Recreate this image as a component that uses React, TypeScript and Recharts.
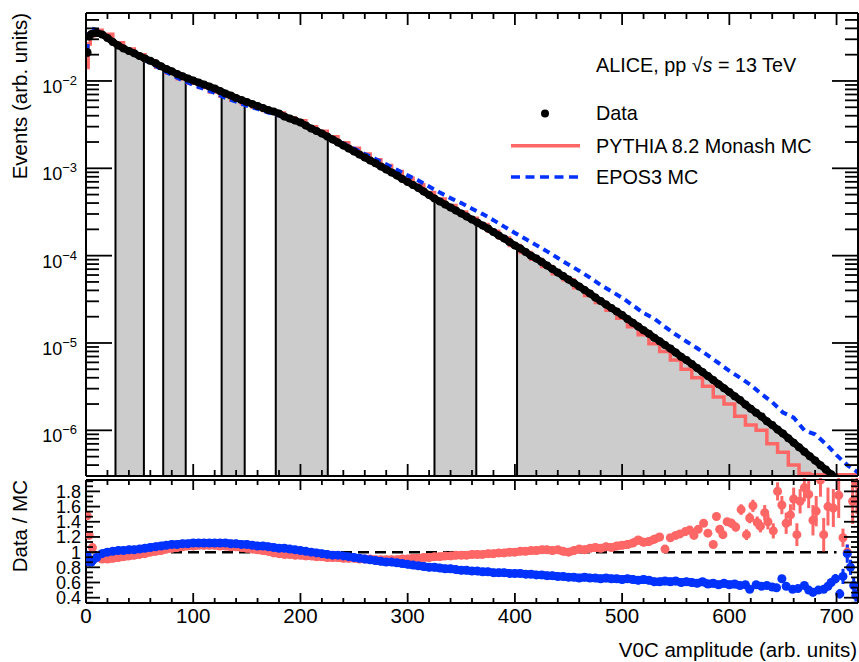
import React from "react";
import { ComposedChart, Line, Area, Scatter, ErrorBar, XAxis, YAxis } from "recharts";

const FONT = '"Liberation Sans", Arial, Helvetica, sans-serif';
const RED = "#ff6666";
const BLUE = "#0032ff";
const GRAY = "#cccccc";
const Y_MIN = 3e-7;
const Y_MAX = 0.06;

// ---- top panel: measured V0C amplitude distribution ----
const dataFirst = { x: 1, y: 0.0212 };
const dataHeadX = [3];
const dataHeadY = [0.0323];
// x = 5, 10, ..., 700
const dataX0 = 5;
const dataDx = 5;
const dataY = [
  0.0346, 0.0355, 0.0341, 0.0311, 0.028, 0.0255, 0.0236, 0.0221, 0.0207, 0.0193,
  0.0181, 0.017, 0.0159, 0.0147, 0.0137, 0.0129, 0.012, 0.0113, 0.0107, 0.0101,
  0.00961, 0.00912, 0.00865, 0.00821, 0.00768, 0.00719, 0.00682, 0.00639, 0.00606, 0.00575,
  0.00545, 0.00517, 0.00491, 0.00465, 0.00447, 0.00424, 0.00392, 0.00372, 0.00353, 0.00335,
  0.00309, 0.00286, 0.00268, 0.0025, 0.00231, 0.00214, 0.00198, 0.00182, 0.00169, 0.00156,
  0.00144, 0.00133, 0.00123, 0.00114, 0.00105, 0.000969, 0.000895, 0.000827, 0.000754, 0.000697,
  0.000644, 0.000595, 0.000542, 0.000494, 0.000451, 0.000417, 0.000385, 0.000356, 0.000329, 0.000304,
  0.00028, 0.000259, 0.000239, 0.000221, 0.000204, 0.000186, 0.00017, 0.000157, 0.000143, 0.000131,
  0.000121, 0.00011, 0.0001, 9.26e-5, 8.45e-5, 7.7e-5, 7.02e-5, 6.4e-5, 5.84e-5, 5.32e-5,
  4.86e-5, 4.43e-5, 4.04e-5, 3.68e-5, 3.31e-5, 3.02e-5, 2.75e-5, 2.51e-5, 2.29e-5, 2.09e-5,
  1.88e-5, 1.71e-5, 1.54e-5, 1.4e-5, 1.28e-5, 1.15e-5, 1.05e-5, 9.46e-6, 8.63e-6, 7.76e-6,
  6.98e-6, 6.37e-6, 5.73e-6, 5.16e-6, 4.64e-6, 4.18e-6, 3.76e-6, 3.38e-6, 3.04e-6, 2.74e-6,
  2.46e-6, 2.22e-6, 1.97e-6, 1.77e-6, 1.59e-6, 1.44e-6, 1.27e-6, 1.15e-6, 1.02e-6, 9.17e-7,
  8.14e-7, 7.23e-7, 6.42e-7, 5.7e-7, 5.06e-7, 4.5e-7, 3.99e-7, 3.55e-7, 3.15e-7, 2.8e-7,
];

// MC histograms: head bins then x = 10, 20, ..., 720
const mcHeadX = [1, 3, 5];
const mcX0 = 10;
const mcDx = 10;
const pythiaHeadY = [0.0143, 0.0265, 0.033];
const pythiaY = [
  0.0382, 0.0342, 0.0274, 0.0233, 0.0199, 0.017, 0.0144, 0.0123, 0.0106, 0.0094,
  0.0084, 0.0075, 0.0067, 0.006, 0.0055, 0.005, 0.0046, 0.0043, 0.0038, 0.0035,
  0.003, 0.00266, 0.0023, 0.00196, 0.0017, 0.00146, 0.00125, 0.00108, 0.00092, 0.00077,
  0.00065, 0.00053, 0.000444, 0.000375, 0.000317, 0.000268, 0.000228, 0.00019, 0.000159, 0.000131,
  0.000109, 9.1e-5, 7.5e-5, 6.2e-5, 5.3e-5, 4.3e-5, 3.5e-5, 2.9e-5, 2.37e-5, 1.92e-5,
  1.53e-5, 1.24e-5, 9.8e-6, 8.0e-6, 6.4e-6, 5.0e-6, 4.0e-6, 3.2e-6, 2.4e-6, 2.0e-6,
  1.45e-6, 1.15e-6, 1.0e-6, 7.0e-7, 5.6e-7, 4.0e-7, 3.2e-7, 3.1e-7, 3.1e-7, 3.1e-7,
  3.1e-7, 3.1e-7,
];
const eposHeadY = [0.022, 0.0367, 0.0398];
const eposY = [
  0.0382, 0.0311, 0.025, 0.0215, 0.0186, 0.016, 0.0136, 0.0117, 0.0102, 0.009,
  0.0081, 0.0073, 0.0064, 0.0058, 0.0052, 0.00479, 0.00435, 0.00404, 0.00358, 0.00328,
  0.00286, 0.00255, 0.00223, 0.00192, 0.00168, 0.00146, 0.00128, 0.00111, 0.00096, 0.00083,
  0.000726, 0.000618, 0.000528, 0.000456, 0.0004, 0.000345, 0.000299, 0.000255, 0.000215, 0.000182,
  0.000155, 0.000132, 0.000112, 9.4e-5, 7.9e-5, 6.7e-5, 5.6e-5, 4.6e-5, 3.9e-5, 3.3e-5,
  2.7e-5, 2.2e-5, 1.9e-5, 1.53e-5, 1.25e-5, 1.04e-5, 8.7e-6, 7.2e-6, 5.9e-6, 4.8e-6,
  4.0e-6, 3.3e-6, 2.6e-6, 2.1e-6, 1.6e-6, 1.4e-6, 1.0e-6, 9.0e-7, 7.0e-7, 5.2e-7,
  4.0e-7, 3.3e-7,
];

// multiplicity class edges (pairs = shaded classes) and curve height at each edge
const bandEdges = [27.5, 54, 72, 93, 126.5, 148, 177, 225.5, 325, 364, 402, 700];
const edgeTops = [0.0265, 0.0186, 0.0144, 0.0109, 0.0075, 0.0059, 0.0044, 0.0023, 0.00045, 0.000245, 0.000128, 2.8e-7];

// ---- ratio panel ----
const redHeadX = [1, 3, 6];
const redHeadY = [1.48, 1.22, 1.06];
// x = 10, 15, ..., 535
const redX0 = 10;
const redY = [
  0.93, 0.91, 0.91, 0.92, 0.93, 0.94, 0.95, 0.96, 0.97, 0.98,
  1.0, 1.01, 1.02, 1.04, 1.05, 1.06, 1.07, 1.08, 1.08, 1.09,
  1.09, 1.09, 1.09, 1.08, 1.08, 1.07, 1.07, 1.06, 1.05, 1.04,
  1.03, 1.02, 1.01, 0.99, 0.98, 0.97, 0.97, 0.96, 0.96, 0.95,
  0.95, 0.94, 0.94, 0.93, 0.93, 0.93, 0.92, 0.92, 0.92, 0.91,
  0.91, 0.91, 0.9, 0.9, 0.9, 0.9, 0.9, 0.91, 0.91, 0.92,
  0.92, 0.93, 0.93, 0.94, 0.94, 0.95, 0.95, 0.96, 0.96, 0.96,
  0.97, 0.97, 0.97, 0.98, 0.98, 0.99, 0.99, 1.0, 1.0, 1.01,
  1.01, 1.02, 1.02, 1.03, 1.03, 1.02, 1.03, 1.01, 1.0, 1.02,
  1.04, 1.03, 1.05, 1.06, 1.05, 1.07, 1.06, 1.08, 1.09, 1.1,
  1.12, 1.16, 1.13, 1.14, 1.17, 1.2,
];
const redTailX = [540, 545, 550, 554, 559, 563, 567, 571, 576, 580, 585, 588, 591, 594, 598, 602, 606, 611, 616, 619, 622, 626, 629, 633, 636, 641, 645, 649, 653, 657, 660, 663, 666, 670, 674, 678, 681, 685, 688, 692, 697, 702, 706, 710, 715, 719];
const redTailY = [1.04, 1.19, 1.22, 1.24, 1.27, 1.29, 1.22, 1.3, 1.38, 1.25, 1.1, 1.47, 1.3, 1.23, 1.4, 1.38, 1.33, 1.56, 1.23, 1.45, 1.61, 1.39, 1.34, 1.52, 1.4, 1.28, 1.8, 1.62, 1.38, 1.49, 1.7, 1.23, 1.67, 1.85, 1.76, 1.42, 1.54, 1.95, 1.23, 1.6, 1.58, 1.75, 1.19, 1.0, 1.67, 1.9];
const redTailErr = [0.02, 0.02, 0.02, 0.03, 0.03, 0.03, 0.03, 0.03, 0.04, 0.04, 0.04, 0.05, 0.05, 0.05, 0.05, 0.06, 0.06, 0.07, 0.07, 0.07, 0.08, 0.08, 0.08, 0.1, 0.1, 0.1, 0.12, 0.12, 0.14, 0.14, 0.15, 0.15, 0.16, 0.18, 0.18, 0.2, 0.2, 0.22, 0.22, 0.25, 0.25, 0.3, 0.12, 0.1, 0.3, 0.4];

const blueHeadX = [1, 3];
const blueHeadY = [0.96, 0.87];
// x = 5, 10, ..., 610
const blueX0 = 5;
const blueY = [
  0.87, 0.93, 0.98, 1.0, 1.01, 1.02, 1.02, 1.03, 1.03, 1.04,
  1.05, 1.06, 1.07, 1.08, 1.09, 1.1, 1.1, 1.11, 1.11, 1.12,
  1.12, 1.12, 1.12, 1.12, 1.12, 1.12, 1.11, 1.11, 1.1, 1.1,
  1.09, 1.08, 1.08, 1.07, 1.06, 1.05, 1.05, 1.04, 1.03, 1.02,
  1.01, 1.0, 0.99, 0.98, 0.97, 0.96, 0.96, 0.95, 0.94, 0.93,
  0.92, 0.91, 0.9, 0.89, 0.88, 0.87, 0.87, 0.86, 0.85, 0.84,
  0.83, 0.82, 0.81, 0.8, 0.8, 0.79, 0.78, 0.78, 0.77, 0.76,
  0.76, 0.75, 0.75, 0.74, 0.74, 0.73, 0.73, 0.73, 0.72, 0.72,
  0.72, 0.71, 0.71, 0.7, 0.7, 0.69, 0.69, 0.68, 0.68, 0.67,
  0.67, 0.66, 0.67, 0.66, 0.66, 0.65, 0.66, 0.65, 0.65, 0.64,
  0.65, 0.64, 0.63, 0.64, 0.63, 0.61, 0.61, 0.62, 0.61, 0.62,
  0.6, 0.61, 0.6, 0.59, 0.61, 0.58, 0.59, 0.57, 0.59, 0.57,
  0.58, 0.56,
];
const blueTailX = [615, 619, 625, 630, 635, 640, 644, 649, 653, 659, 664, 670, 674, 678, 683, 688, 692, 695, 699, 703, 706, 710, 713, 716, 718];
const blueTailY = [0.57, 0.51, 0.57, 0.55, 0.56, 0.54, 0.53, 0.65, 0.55, 0.51, 0.52, 0.56, 0.5, 0.47, 0.5, 0.51, 0.55, 0.6, 0.65, 0.45, 0.68, 0.98, 0.8, 0.56, 0.43];
const blueTailErr = [0.02, 0.02, 0.02, 0.02, 0.02, 0.03, 0.03, 0.03, 0.03, 0.03, 0.03, 0.04, 0.04, 0.04, 0.04, 0.04, 0.05, 0.05, 0.06, 0.06, 0.1, 0.12, 0.1, 0.1, 0.08];

const ratioLabels = [0.4, 0.6, 0.8, 1, 1.2, 1.4, 1.6, 1.8];

// ---- tables for the library ----
const dataRows = [
  ...dataHeadX.map((x, i) => ({ x, y: dataHeadY[i] })),
  ...dataY.map((y, i) => ({ x: dataX0 + i * dataDx, y })),
];
const mcRows = (head: number[], vals: number[]) => [
  ...mcHeadX.map((x, i) => ({ x, y: head[i] })),
  ...vals.map((y, i) => ({ x: mcX0 + i * mcDx, y })),
];
const pythiaRows = mcRows(pythiaHeadY, pythiaY);
const eposRows = mcRows(eposHeadY, eposY);

const grayRows: { x: number; g: number | null }[] = [];
for (let b = 0; b < bandEdges.length; b += 2) {
  const lo = bandEdges[b];
  const hi = bandEdges[b + 1];
  grayRows.push({ x: lo, g: edgeTops[b] });
  dataRows.forEach((r) => {
    if (r.x > lo && r.x < hi) grayRows.push({ x: r.x, g: r.y });
  });
  grayRows.push({ x: hi, g: edgeTops[b + 1] });
  grayRows.push({ x: hi, g: null });
}
const edgeRows = bandEdges.slice(0, -1).flatMap((e, i) => [
  { x: e, v: Y_MIN },
  { x: e, v: edgeTops[i] },
  { x: e, v: null },
]);

const redRows = redY.map((y, i) => ({ x: redX0 + i * 5, y }));
const redHeadRows = redHeadX.map((x, i) => ({ x, y: redHeadY[i] }));
const redTailRows = redTailX.map((x, i) => ({ x, y: redTailY[i], err: redTailErr[i] }));
const blueRows = [
  ...blueHeadX.map((x, i) => ({ x, y: blueHeadY[i] })),
  ...blueY.map((y, i) => ({ x: blueX0 + i * 5, y })),
];
const blueTailRows = blueTailX.map((x, i) => ({ x, y: blueTailY[i], err: blueTailErr[i] }));
const unityRows = [{ x: 0, y: 1 }, { x: 700, y: 1 }];

const xTicks: number[] = [];
for (let v = 0; v <= 720; v += 20) xTicks.push(v);
const yLogTicks: number[] = [];
[1e-7, 1e-6, 1e-5, 1e-4, 1e-3, 1e-2].forEach((d) => {
  for (let m = 1; m <= 9; m++) {
    const v = m * d;
    if (v > 3.05e-7 && v < 0.0599) yLogTicks.push(v);
  }
});
const ratioTicks: number[] = [];
for (let i = -1; i <= 23; i++) ratioTicks.push(+(0.4 + (i * 0.2) / 3).toFixed(4));

// ---- tick renderers (ROOT style: ticks inside the frame) ----
const logTick = (side: "l" | "r") => (p: any) => {
  const { x, y, payload } = p;
  const lg = Math.log10(payload.value);
  const major = Math.abs(lg - Math.round(lg)) < 1e-6;
  const len = major ? 26 : 13;
  const dir = side === "l" ? 1 : -1;
  return (
    <g>
      <line x1={x} y1={y} x2={x + dir * len} y2={y} stroke="#000" strokeWidth={1.8} />
      {side === "l" && major && (
        <text x={x - 9} y={y + 12} textAnchor="end" fontFamily={FONT} fontSize={18} fill="#000">
          10
          <tspan dy={-8} fontSize={13}>
            {"\u2212" + -Math.round(lg)}
          </tspan>
        </text>
      )}
    </g>
  );
};

const ratioTick = (side: "l" | "r") => (p: any) => {
  const { x, y, payload } = p;
  const v = payload.value;
  const major = Math.abs(v * 5 - Math.round(v * 5)) < 1e-3;
  const len = major ? 14 : 7;
  const dir = side === "l" ? 1 : -1;
  return (
    <g>
      <line x1={x} y1={y} x2={x + dir * len} y2={y} stroke="#000" strokeWidth={1.8} />
      {side === "l" && major && ratioLabels.some((r) => Math.abs(r - v) < 1e-3) && (
        <text x={x - 5} y={y + 6.5} textAnchor="end" fontFamily={FONT} fontSize={18} fill="#000">
          {v === 1 ? "1" : v.toFixed(1)}
        </text>
      )}
    </g>
  );
};

// bottom axis: y is its top edge (= plot bottom); top axis: y is its bottom edge (= plot top)
const xTick = (pos: "b" | "t", majorLen: number, minorLen: number, labels: boolean) => (p: any) => {
  const { x, y, payload } = p;
  const v = payload.value;
  const major = v % 100 === 0;
  const len = major ? majorLen : minorLen;
  const dir = pos === "b" ? -1 : 1;
  return (
    <g>
      <line x1={x} y1={y} x2={x} y2={y + dir * len} stroke="#000" strokeWidth={1.8} />
      {labels && major && (
        <text x={x} y={y + 19.5} textAnchor="middle" fontFamily={FONT} fontSize={20.5} fill="#000">
          {v}
        </text>
      )}
    </g>
  );
};

const frame = { stroke: "#000", strokeWidth: 2 };

export default function App() {
  return (
    <div style={{ position: "absolute", left: 0, top: 0, width: 859, height: 662, background: "#fff" }}>
      <div style={{ position: "absolute", left: 0, top: 0 }}>
        <ComposedChart width={859} height={480} margin={{ top: 12, right: 0, bottom: 3, left: 0 }}>
          <XAxis xAxisId="b" type="number" dataKey="x" domain={[0, 720]} allowDataOverflow ticks={xTicks} interval={0}
            height={1} tickSize={0} tickMargin={0} tickLine={false} axisLine={frame} tick={xTick("b", 12, 6, false)} />
          <XAxis xAxisId="t" orientation="top" type="number" dataKey="x" domain={[0, 720]} allowDataOverflow ticks={xTicks}
            interval={0} height={1} tickSize={0} tickMargin={0} tickLine={false} axisLine={frame} tick={xTick("t", 12, 6, false)} />
          <YAxis yAxisId="l" type="number" scale="log" domain={[Y_MIN, Y_MAX]} allowDataOverflow ticks={yLogTicks}
            interval={0} width={86} tickSize={0} tickMargin={0} tickLine={false} axisLine={frame} tick={logTick("l")} />
          <YAxis yAxisId="r" orientation="right" type="number" scale="log" domain={[Y_MIN, Y_MAX]} allowDataOverflow
            ticks={yLogTicks} interval={0} width={1} tickSize={0} tickMargin={0} tickLine={false} axisLine={frame} tick={logTick("r")} />

          <Area xAxisId="b" yAxisId="l" data={grayRows} dataKey="g" type="linear" baseValue="dataMin" fill={GRAY}
            fillOpacity={1} stroke="none" connectNulls={false} dot={false} activeDot={false} isAnimationActive={false} />
          <Line xAxisId="b" yAxisId="l" data={edgeRows} dataKey="v" stroke="#000" strokeWidth={2} dot={false}
            activeDot={false} connectNulls={false} isAnimationActive={false} />
          <Line xAxisId="b" yAxisId="l" data={pythiaRows} dataKey="y" type="step" stroke={RED} strokeWidth={3.5}
            dot={false} activeDot={false} isAnimationActive={false} />
          <Line xAxisId="b" yAxisId="l" data={eposRows} dataKey="y" type="linear" stroke={BLUE} strokeWidth={4}
            strokeDasharray="7 5" dot={false} activeDot={false} isAnimationActive={false} />
          <Line xAxisId="b" yAxisId="l" data={dataRows} dataKey="y" type="linear" stroke="#000" strokeWidth={7}
            strokeLinejoin="round" dot={{ r: 4, fill: "#000", stroke: "none" }} activeDot={false} isAnimationActive={false} />
          <Scatter xAxisId="b" yAxisId="l" data={[dataFirst]} dataKey="y" fill="#000" isAnimationActive={false} />
        </ComposedChart>
      </div>

      <div style={{ position: "absolute", left: 0, top: 478 }}>
        <ComposedChart width={859} height={184} margin={{ top: 1, right: 0, bottom: 58, left: 0 }}>
          <XAxis xAxisId="b" type="number" dataKey="x" domain={[0, 720]} allowDataOverflow ticks={xTicks} interval={0}
            height={1} tickSize={0} tickMargin={0} tickLine={false} axisLine={frame} tick={xTick("b", 10, 5, true)} />
          <XAxis xAxisId="t" orientation="top" type="number" dataKey="x" domain={[0, 720]} allowDataOverflow ticks={xTicks}
            interval={0} height={1} tickSize={0} tickMargin={0} tickLine={false} axisLine={frame} tick={xTick("t", 10, 5, false)} />
          <YAxis yAxisId="l" type="number" domain={[0.33, 1.95]} allowDataOverflow ticks={ratioTicks} interval={0}
            width={86} tickSize={0} tickMargin={0} tickLine={false} axisLine={frame} tick={ratioTick("l")} />
          <YAxis yAxisId="r" orientation="right" type="number" domain={[0.33, 1.95]} allowDataOverflow ticks={ratioTicks}
            interval={0} width={1} tickSize={0} tickMargin={0} tickLine={false} axisLine={frame} tick={ratioTick("r")} />

          <Line xAxisId="b" yAxisId="l" data={unityRows} dataKey="y" stroke="#000" strokeWidth={2.5}
            strokeDasharray="11 6" dot={false} activeDot={false} isAnimationActive={false} />
          <Line xAxisId="b" yAxisId="l" data={redRows} dataKey="y" stroke={RED} strokeWidth={8} strokeLinejoin="round"
            dot={{ r: 4.5, fill: RED, stroke: "none" }} activeDot={false} isAnimationActive={false} />
          <Scatter xAxisId="b" yAxisId="l" data={redHeadRows} dataKey="y" fill={RED} isAnimationActive={false} />
          <Scatter xAxisId="b" yAxisId="l" data={redTailRows} dataKey="y" fill={RED} isAnimationActive={false}>
            <ErrorBar dataKey="err" direction="y" width={0} stroke={RED} strokeWidth={3} isAnimationActive={false} />
          </Scatter>
          <Line xAxisId="b" yAxisId="l" data={blueRows} dataKey="y" stroke={BLUE} strokeWidth={8} strokeLinejoin="round"
            dot={{ r: 4.5, fill: BLUE, stroke: "none" }} activeDot={false} isAnimationActive={false} />
          <Scatter xAxisId="b" yAxisId="l" data={blueTailRows} dataKey="y" fill={BLUE} isAnimationActive={false}>
            <ErrorBar dataKey="err" direction="y" width={0} stroke={BLUE} strokeWidth={3} isAnimationActive={false} />
          </Scatter>
        </ComposedChart>
      </div>

      <svg width={859} height={662} style={{ position: "absolute", left: 0, top: 0, pointerEvents: "none" }}
        fontFamily={FONT} fill="#000">
        <text transform="translate(26.5,13) rotate(-90)" textAnchor="end" fontSize={20.5}>Events (arb. units)</text>
        <text transform="translate(26.5,480) rotate(-90)" textAnchor="end" fontSize={20.5}>Data / MC</text>
        <text x={857} y={656.5} textAnchor="end" fontSize={20.5}>V0C amplitude (arb. units)</text>
        <text x={596} y={71.5} fontSize={19.8}>
          ALICE, pp <tspan>{"\u221A"}</tspan>
          <tspan fontStyle="italic">s</tspan> = 13 TeV
        </text>
        <circle cx={545} cy={113.5} r={4} fill="#000" />
        <text x={596} y={120} fontSize={19.8}>Data</text>
        <line x1={511} y1={145.7} x2={580} y2={145.7} stroke={RED} strokeWidth={3.5} />
        <text x={596} y={153} fontSize={19.8}>PYTHIA 8.2 Monash MC</text>
        <line x1={511} y1={177} x2={580} y2={177} stroke={BLUE} strokeWidth={3.5} strokeDasharray="9 5.5" />
        <text x={596} y={184} fontSize={19.8}>EPOS3 MC</text>
      </svg>
    </div>
  );
}
